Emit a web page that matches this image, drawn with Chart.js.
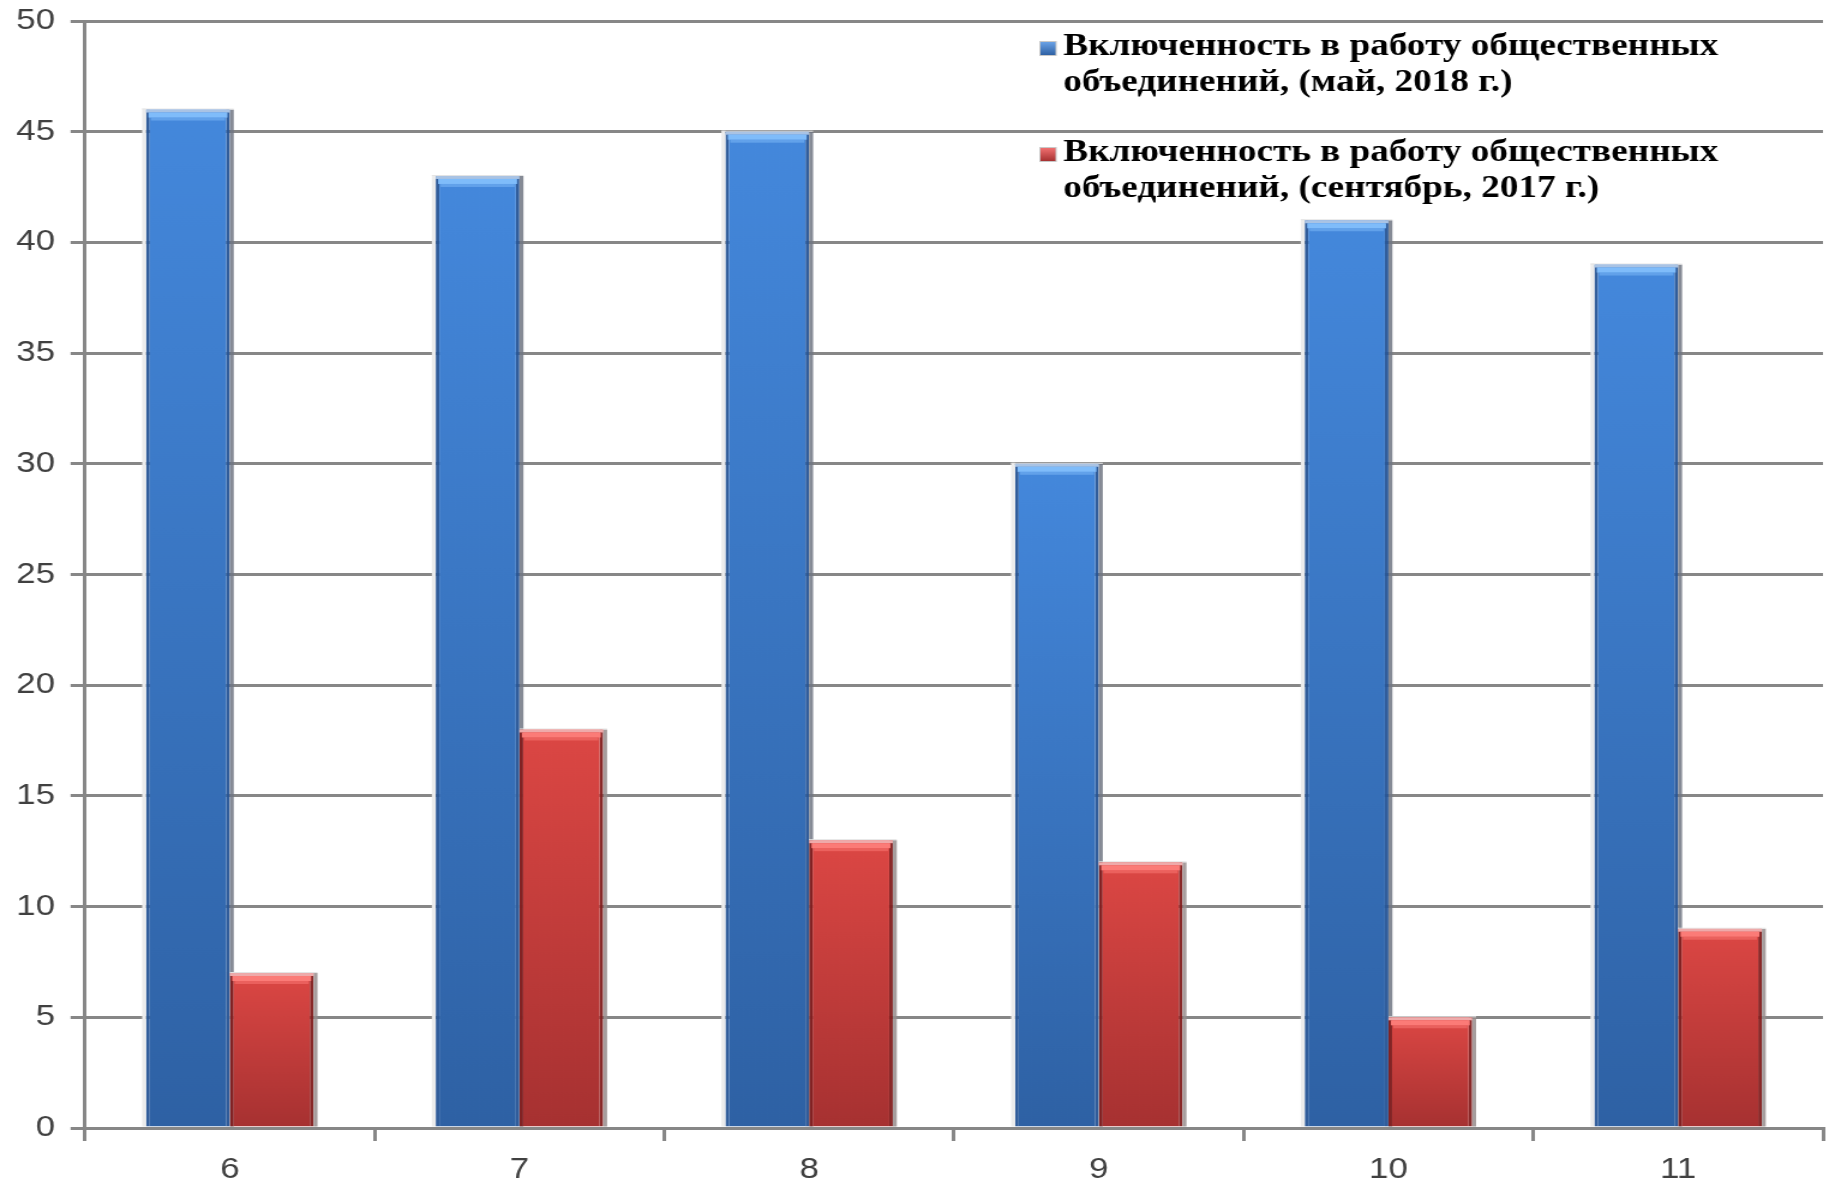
<!DOCTYPE html>
<html>
<head>
<meta charset="utf-8">
<script src="https://cdn.jsdelivr.net/npm/chart.js@4.4.1/dist/chart.umd.min.js"></script>
<style>
  html, body { margin: 0; padding: 0; background: #ffffff; overflow: hidden; }
  #wrap { position: absolute; left: 0; top: 0; width: 1529px; height: 1181px; transform: scaleX(1.2001); transform-origin: 0 0; }
  #c { display: block; }
</style>
</head>
<body>
<div id="wrap"><canvas id="c" width="1529" height="1181"></canvas></div>
<script>
// ---- data ----
const categories = ['6', '7', '8', '9', '10', '11'];
const may2018 = [46, 43, 45, 30, 41, 39];
const sep2017 = [7, 18, 13, 12, 5, 9];
const seriesNames = [
  ['Включенность в работу общественных', 'объединений, (май, 2018 г.)'],
  ['Включенность в работу общественных', 'объединений, (сентябрь, 2017 г.)']
];
const yMin = 0, yMax = 50, yStep = 5;

// ---- styles ----
const palette = [
  { top: '#4488dc', bottom: '#2e61a4', edge: 'rgba(38,84,150,0.95)', cap1: '#a9c3e4', cap2: '#7fbcfa', shade: 'rgba(112,118,130,0.85)' },
  { top: '#dc4744', bottom: '#a63131', edge: 'rgba(130,28,28,0.95)', cap1: '#eeaaaa', cap2: '#fb7b77', shade: 'rgba(150,140,140,0.85)' }
];
const gridColor = '#878787';

function barGradient(ctx, p) {
  const chart = ctx.chart;
  const ys = chart.scales.y;
  if (!ys || ctx.raw === undefined) return p.top;
  const y0 = ys.getPixelForValue(ctx.raw);
  const y1 = ys.getPixelForValue(0);
  if (!isFinite(y0) || !isFinite(y1) || y0 === y1) return p.top;
  const g = chart.ctx.createLinearGradient(0, y0, 0, y1);
  g.addColorStop(0, p.top);
  g.addColorStop(1, p.bottom);
  return g;
}

const barDecor = {
  id: 'barDecor',
  beforeDatasetsDraw(chart) {
    const c = chart.ctx;
    chart.data.datasets.forEach((ds, i) => {
      const meta = chart.getDatasetMeta(i);
      const p = palette[i];
      meta.data.forEach(bar => {
        const { x, y, base, width } = bar.getProps(['x', 'y', 'base', 'width'], true);
        c.save();
        c.fillStyle = '#ececec';
        c.fillRect(x - width / 2 - 3.3, y - 1, 3.3, base - y + 1);
        c.fillStyle = p.shade;
        c.fillRect(x + width / 2, y, 3.3, base - y);
        c.fillStyle = '#e4e4e4';
        c.fillRect(x - width / 2 - 3.3, y - 1, width + 6.6, 1);
        c.restore();
      });
    });
  },
  afterDatasetsDraw(chart) {
    const c = chart.ctx;
    chart.data.datasets.forEach((ds, i) => {
      const meta = chart.getDatasetMeta(i);
      const p = palette[i];
      meta.data.forEach(bar => {
        const { x, y, width } = bar.getProps(['x', 'y', 'width'], true);
        c.save();
        c.fillStyle = p.cap1;
        c.fillRect(x - width / 2, y, width, 3);
        c.fillStyle = p.cap2;
        c.fillRect(x - width / 2 + 2, y + 3, width - 4, 5);
        c.globalAlpha = 0.5;
        c.fillRect(x - width / 2 + 4, y + 8, width - 8, 3);
        c.restore();
      });
    });
  }
};

const legendPlugin = {
  id: 'sideLegend',
  afterDraw(chart) {
    const c = chart.ctx;
    c.save();
    c.font = 'bold 31px "Liberation Serif", "Times New Roman", serif';
    c.fillStyle = '#000000';
    c.textBaseline = 'alphabetic';
    c.textAlign = 'left';
    const baselines = [[55, 91], [161, 197]];
    const markerTop = [42, 148];
    seriesNames.forEach((lines, i) => {
      const p = palette[i];
      const g = c.createLinearGradient(0, markerTop[i], 0, markerTop[i] + 13);
      g.addColorStop(0, i === 0 ? '#6aa2e6' : '#f07070');
      g.addColorStop(1, p.bottom);
      c.fillStyle = '#c8c8c8';
      c.fillRect(866, markerTop[i] - 1, 14.5, 15);
      c.fillStyle = g;
      c.fillRect(867, markerTop[i], 12.5, 13);
      c.fillStyle = '#000000';
      lines.forEach((t, k) => c.fillText(t, 886, baselines[i][k]));
    });
    c.restore();
  }
};

const tickFont = { family: '"Liberation Sans", Arial, sans-serif', size: 29 };

new Chart(document.getElementById('c'), {
  type: 'bar',
  data: {
    labels: categories,
    datasets: [
      {
        label: seriesNames[0].join(' '),
        data: may2018,
        backgroundColor: ctx => barGradient(ctx, palette[0]),
        borderColor: palette[0].edge,
        borderWidth: { left: 3, right: 3, top: 0, bottom: 0 },
        borderSkipped: false,
        categoryPercentage: 0.578,
        barPercentage: 1.0
      },
      {
        label: seriesNames[1].join(' '),
        data: sep2017,
        backgroundColor: ctx => barGradient(ctx, palette[1]),
        borderColor: palette[1].edge,
        borderWidth: { left: 3, right: 3, top: 0, bottom: 0 },
        borderSkipped: false,
        categoryPercentage: 0.578,
        barPercentage: 1.0
      }
    ]
  },
  options: {
    responsive: false,
    animation: false,
    devicePixelRatio: 1,
    layout: { padding: { left: 0, right: 10, top: 21, bottom: 0 } },
    plugins: {
      legend: { display: false },
      tooltip: { enabled: false }
    },
    scales: {
      x: {
        offset: true,
        grid: { offset: true, drawOnChartArea: false, drawTicks: true, tickLength: 13, color: gridColor, lineWidth: 3 },
        border: { display: true, color: gridColor, width: 3 },
        ticks: { color: '#404040', font: tickFont, padding: 12 },
        afterFit(scale) { scale.height = 53; scale.paddingLeft = 0; scale.paddingRight = 0; }
      },
      y: {
        min: yMin,
        max: yMax,
        ticks: { stepSize: yStep, color: '#404040', font: tickFont, padding: 13 },
        grid: { color: gridColor, lineWidth: 3, tickLength: 12, drawTicks: true },
        border: { display: true, color: gridColor, width: 3 },
        afterFit(scale) { scale.width = 70.8; scale.paddingTop = 0; scale.paddingBottom = 0; }
      }
    }
  },
  plugins: [barDecor, legendPlugin]
});
</script>
</body>
</html>
